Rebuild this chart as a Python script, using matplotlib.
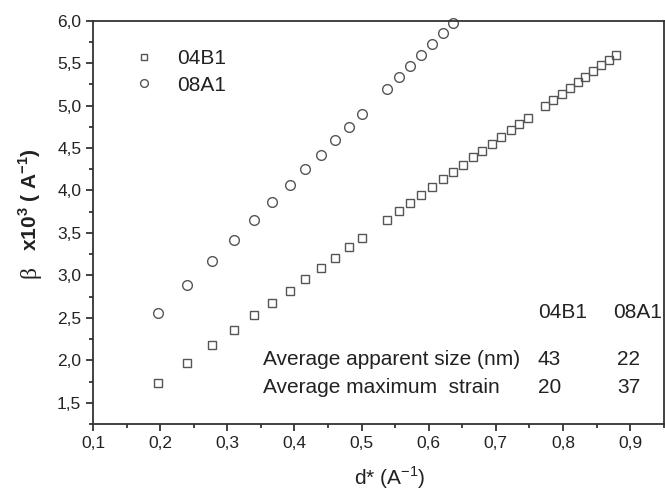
import matplotlib
matplotlib.use("Agg")
import matplotlib.pyplot as plt
from matplotlib.ticker import MultipleLocator, FuncFormatter

plt.rcParams['font.family'] = ['Liberation Sans', 'DejaVu Sans']
plt.rcParams['mathtext.fontset'] = 'custom'
plt.rcParams['mathtext.rm'] = 'Liberation Sans'
plt.rcParams['mathtext.bf'] = 'Liberation Sans:bold'

# --- data ---
d_04B1 = [0.196, 0.240, 0.277, 0.310, 0.339, 0.367, 0.393, 0.416, 0.439, 0.460,
          0.481, 0.500, 0.538, 0.555, 0.572, 0.589, 0.605, 0.621, 0.636, 0.651,
          0.666, 0.680, 0.694, 0.708, 0.722, 0.735, 0.748, 0.773, 0.785, 0.798,
          0.810, 0.822, 0.833, 0.845, 0.856, 0.868, 0.879]
beta_04B1 = [1.73, 1.97, 2.18, 2.36, 2.53, 2.68, 2.82, 2.96, 3.09, 3.21,
             3.33, 3.44, 3.65, 3.76, 3.85, 3.95, 4.04, 4.13, 4.22, 4.30,
             4.39, 4.47, 4.55, 4.63, 4.71, 4.78, 4.85, 5.00, 5.07, 5.14,
             5.21, 5.28, 5.34, 5.41, 5.48, 5.54, 5.60]

d_08A1 = [0.196, 0.240, 0.277, 0.310, 0.339, 0.367, 0.393, 0.415, 0.439, 0.460,
          0.481, 0.500, 0.538, 0.555, 0.572, 0.589, 0.605, 0.621, 0.636]
beta_08A1 = [2.56, 2.89, 3.17, 3.42, 3.65, 3.86, 4.06, 4.25, 4.42, 4.59,
             4.75, 4.90, 5.20, 5.34, 5.47, 5.60, 5.72, 5.85, 5.97]

samples = ["04B1", "08A1"]
row_labels = ["Average apparent size (nm)", "Average maximum  strain"]
size_nm = ["43", "22"]
max_strain = ["20", "37"]

# --- figure ---
fig = plt.figure(figsize=(6.65, 4.9), dpi=100)
ax = fig.add_axes([0.140, 0.1347, 0.858, 0.8233])

edge = "#555555"
ax.plot(d_04B1, beta_04B1, linestyle="none", marker="s", markersize=6.2,
        markerfacecolor="none", markeredgecolor=edge, markeredgewidth=1.0,
        label=samples[0], clip_on=False)
ax.plot(d_08A1, beta_08A1, linestyle="none", marker="o", markersize=7,
        markerfacecolor="none", markeredgecolor=edge, markeredgewidth=1.0,
        label=samples[1], clip_on=False)

ax.set_xlim(0.1, 0.95)
ax.set_ylim(1.25, 6.0)

ax.xaxis.set_major_locator(MultipleLocator(0.1))
ax.xaxis.set_minor_locator(MultipleLocator(0.05))
ax.yaxis.set_major_locator(MultipleLocator(0.5))
ax.yaxis.set_minor_locator(MultipleLocator(0.25))
comma = FuncFormatter(lambda v, p: f"{v:.1f}".replace(".", ","))
ax.xaxis.set_major_formatter(comma)
ax.yaxis.set_major_formatter(comma)

ax.tick_params(which="both", direction="out", top=False, right=False,
               colors="#222222", labelsize=12.5, width=1.2)
ax.tick_params(which="major", length=5)
ax.tick_params(which="minor", length=3)
for s in ax.spines.values():
    s.set_linewidth(1.3)
    s.set_color("#333333")

leg = ax.legend(loc="upper left", bbox_to_anchor=(0.02, 0.975), frameon=False,
                fontsize=15, handletextpad=0.6, labelspacing=0.35,
                markerscale=0.8)
for t in leg.get_texts():
    t.set_color("#222222")

# annotation table
tkw = dict(transform=fig.transFigure, fontsize=15, color="#222222", va="center")
fig.text(538 / 665, 1 - 312 / 490, samples[0], **tkw)
fig.text(613 / 665, 1 - 312 / 490, samples[1], **tkw)
fig.text(263 / 665, 1 - 359 / 490, row_labels[0], **tkw)
fig.text(263 / 665, 1 - 387 / 490, row_labels[1], **tkw)
fig.text(538 / 665, 1 - 359 / 490, size_nm[0], **tkw)
fig.text(617 / 665, 1 - 359 / 490, size_nm[1], **tkw)
fig.text(538 / 665, 1 - 387 / 490, max_strain[0], **tkw)
fig.text(617 / 665, 1 - 387 / 490, max_strain[1], **tkw)

# axis labels
fig.text(30 / 665, 1 - 272 / 490, "β", family=["Liberation Serif", "DejaVu Serif"],
         fontsize=17, rotation=90, ha="center", va="center", color="#222222")
fig.text(30 / 665, 1 - 200 / 490, r"x10$^{\mathbf{3}}$ ( A$^{\mathbf{-1}}$)",
         fontsize=15, fontweight="bold", rotation=90, ha="center", va="center",
         color="#222222")
fig.text(390 / 665, 1 - 478 / 490, r"d* (A$^{-1}$)", fontsize=15,
         ha="center", va="center", color="#222222")

fig.savefig("out.png", dpi=100)
